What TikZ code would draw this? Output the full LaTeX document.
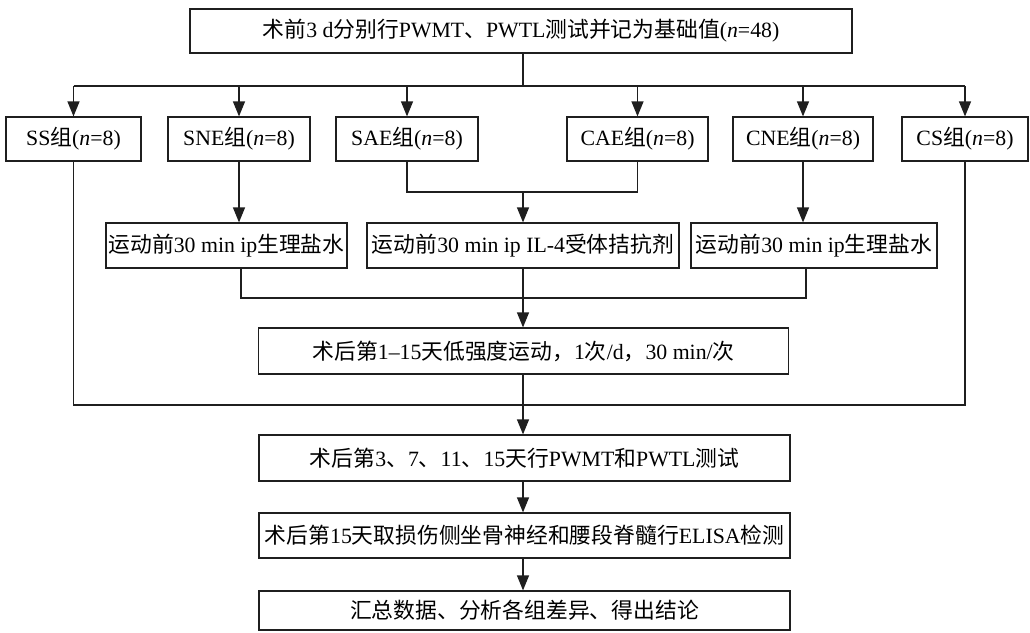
\documentclass[tikz,border=0pt]{standalone}
\usepackage{fontspec}
\setmainfont{Liberation Serif}
\newfontfamily\cjk{Noto Sans CJK SC}
\usetikzlibrary{arrows.meta}
\newcommand\zh[1]{{\cjk #1}}
\begin{document}
\begin{tikzpicture}[x=1pt,y=-1pt,
  box/.style={draw=black!88, line width=1.2pt, inner sep=0pt, font=\fontsize{21.8}{24}\selectfont},
  ln/.style={draw=black!88, line width=1.2pt},
  arr/.style={ln, -{Triangle[length=15pt,width=12pt]}}]
\useasboundingbox (0,0) rectangle (1030,632);
% top
\node[box, minimum width=662pt, minimum height=44pt] (top) at (521,31) {\zh{术前}3 d\zh{分别行}PWMT\zh{、}PWTL\zh{测试并记为基础值}(\textit{n}=48)};
% groups
\node[box, minimum width=135pt, minimum height=44pt] (ss) at (73.5,139) {SS\zh{组}(\textit{n}=8)};
\node[box, minimum width=142pt, minimum height=44pt] (sne) at (239,139) {SNE\zh{组}(\textit{n}=8)};
\node[box, minimum width=142pt, minimum height=44pt] (sae) at (407,139) {SAE\zh{组}(\textit{n}=8)};
\node[box, minimum width=141pt, minimum height=44pt] (cae) at (637.5,139) {CAE\zh{组}(\textit{n}=8)};
\node[box, minimum width=140pt, minimum height=44pt] (cne) at (803,139) {CNE\zh{组}(\textit{n}=8)};
\node[box, minimum width=126pt, minimum height=44pt] (cs) at (965,139) {CS\zh{组}(\textit{n}=8)};
% treatment row
\node[box, minimum width=241pt, minimum height=45pt] (b1) at (226.5,245.5) {\zh{运动前}30 min ip\zh{生理盐水}};
\node[box, minimum width=312pt, minimum height=45pt] (b2) at (523,245.5) {\zh{运动前}30 min ip IL-4\zh{受体拮抗剂}};
\node[box, minimum width=246pt, minimum height=45pt] (b3) at (814,245.5) {\zh{运动前}30 min ip\zh{生理盐水}};
% main column
\node[box, minimum width=530pt, minimum height=46pt] (b4) at (523.5,351) {\zh{术后第}1–15\zh{天低强度运动，}1\zh{次}/d\zh{，}30 min/\zh{次}};
\node[box, minimum width=531pt, minimum height=46pt] (b5) at (524.5,458) {\zh{术后第}3\zh{、}7\zh{、}11\zh{、}15\zh{天行}PWMT\zh{和}PWTL\zh{测试}};
\node[box, minimum width=531pt, minimum height=45pt] (b6) at (524.5,535.5) {\zh{术后第}15\zh{天取损伤侧坐骨神经和腰段脊髓行}ELISA\zh{检测}};
\node[box, minimum width=531pt, minimum height=39pt] (b7) at (524.5,610.5) {\zh{汇总数据、分析各组差异、得出结论}};
% coordinates
\coordinate (bus) at (523,86);
\coordinate (m1) at (523,192);
\coordinate (m2) at (523,298);
\coordinate (m3) at (523,405);
% top to groups
\draw[ln] (top.south -| bus) -- (bus);
\draw[ln] (ss.north |- bus) -- (cs.north |- bus);
\foreach \g in {ss,sne,sae,cae,cne,cs} \draw[arr] (\g.north |- bus) -- (\g.north);
% groups to treatments
\draw[arr] (sne.south) -- (sne.south |- b1.north);
\draw[ln] (sae.south) |- (m1) -| (cae.south);
\draw[arr] (m1) -- (m1 |- b2.north);
\draw[arr] (cne.south) -- (cne.south |- b3.north);
% treatments merge
\coordinate (l1) at (241,268);
\coordinate (l3) at (806,268);
\draw[ln] (b1.south -| l1) |- (m2) -| (b3.south -| l3);
\draw[ln] (b2.south -| m2) -- (m2);
\draw[arr] (m2) -- (m2 |- b4.north);
% big loop
\draw[ln] (ss.south) |- (m3) -| (cs.south);
\draw[arr] (b4.south -| m3) -- (m3 |- b5.north);
\draw[arr] (b5.south -| m3) -- (m3 |- b6.north);
\draw[arr] (b6.south -| m3) -- (m3 |- b7.north);
\end{tikzpicture}
\end{document}
